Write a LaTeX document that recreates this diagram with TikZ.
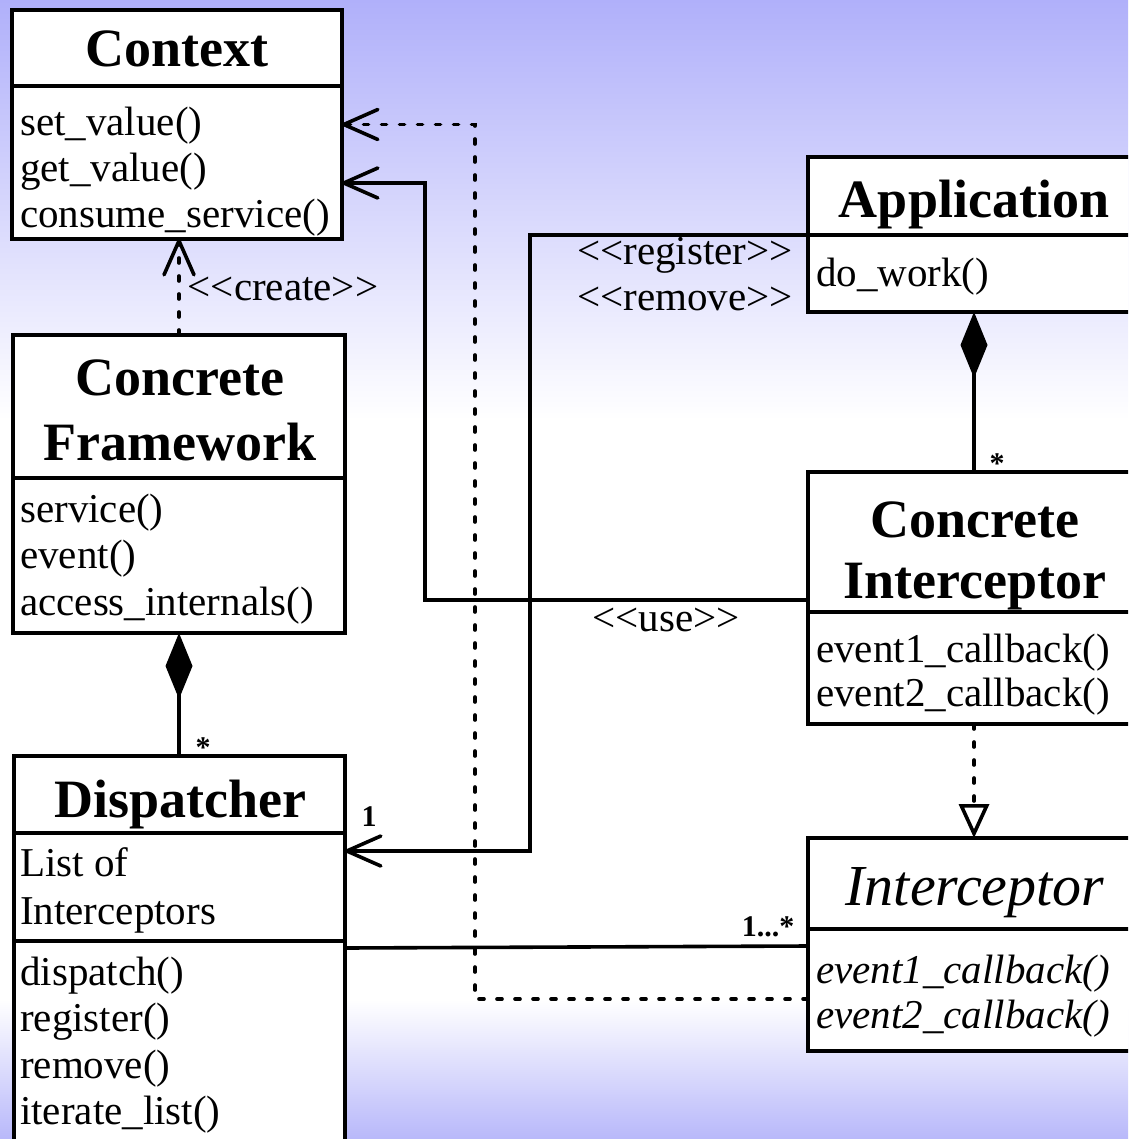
\documentclass[tikz,border=0pt]{standalone}
\usepackage{fontspec}
\setmainfont{Liberation Serif}
\usetikzlibrary{arrows.meta}
\definecolor{bgtop}{RGB}{176,176,250}
\definecolor{bgbot}{RGB}{184,184,250}
% stereotype brackets kept as separate < and > glyphs
\newcommand\stype[1]{\hbox{<}\hbox{<}#1\hbox{>}\hbox{>}}

\begin{document}
\begin{tikzpicture}[x=1pt,y=-1pt,
  classbox/.style={draw=black, line width=4pt, fill=white, inner sep=0pt, outer sep=0pt, anchor=north west},
  sepline/.style={line width=4pt},
  clstitle/.style={font=\fontsize{54}{60}\selectfont\bfseries, inner sep=0pt, anchor=base},
  clsititle/.style={font=\fontsize{58}{60}\selectfont\itshape, inner sep=0pt, anchor=base},
  mline/.style={font=\fontsize{41}{46}\selectfont, inner sep=0pt, anchor=base west},
  imline/.style={font=\fontsize{41}{46}\selectfont\itshape, inner sep=0pt, anchor=base west},
  stereo/.style={font=\fontsize{41}{46}\selectfont, inner sep=0pt, anchor=base},
  multlab/.style={font=\fontsize{30}{32}\selectfont\bfseries, inner sep=0pt, anchor=base},
  conn/.style={line width=3.6pt},
  dep/.style={conn, dash pattern=on 5pt off 13pt, line cap=round},
  openhead/.style={-{Straight Barb[length=34pt,width=30pt,round]}},
  composite/.style={{Diamond[length=66pt,width=27pt]}-},
  realize/.style={-{Triangle[open,length=34pt,width=30pt]}}
]
\useasboundingbox (0,0) rectangle (1128,1139);
\clip (0,0) rectangle (1128,1139);

% background
\fill[top color=bgtop, bottom color=white] (0,0) rectangle (1128,420);
\fill[white] (0,418) rectangle (1128,1002);
\fill[top color=white, bottom color=bgbot] (0,1000) rectangle (1128,1139);

% classes
\node[classbox, minimum width=330pt, minimum height=229pt] (context) at (12,10) {};
\node[classbox, minimum width=332pt, minimum height=298pt] (cf) at (13,335) {};
\node[classbox, minimum width=331pt, minimum height=404pt] (disp) at (14,756) {};
\node[classbox, minimum width=332pt, minimum height=155pt] (app) at (808,157) {};
\node[classbox, minimum width=332pt, minimum height=252pt] (ci) at (808,472) {};
\node[classbox, minimum width=332pt, minimum height=213pt] (intc) at (808,838) {};

% compartment separators
\draw[sepline] (context.west |- 0,86) -- (context.east |- 0,86);
\draw[sepline] (cf.west |- 0,478) -- (cf.east |- 0,478);
\draw[sepline] (disp.west |- 0,833) -- (disp.east |- 0,833);
\draw[sepline] (disp.west |- 0,941) -- (disp.east |- 0,941);
\draw[sepline] (app.west |- 0,235) -- (app.east |- 0,235);
\draw[sepline] (ci.west |- 0,612) -- (ci.east |- 0,612);
\draw[sepline] (intc.west |- 0,929) -- (intc.east |- 0,929);

% class texts
\node[clstitle] (contextT) at (177,67) {Context};
\node[mline] (c1) at (20,136) {set\_value()};
\node[mline] (c2) at (20,182) {get\_value()};
\node[mline] (c3) at (20,228) {consume\_service()};

\node[clstitle] (cfT1) at (180,395) {Concrete};
\node[clstitle] (cfT2) at (180,460) {Framework};
\node[mline] (f1) at (20,522) {service()};
\node[mline] (f2) at (20,568) {event()};
\node[mline] (f3) at (20,615) {access\_internals()};

\node[clstitle] (dispT) at (180,817) {Dispatcher};
\node[mline] (d1) at (20,876) {List of};
\node[mline] (d2) at (20,924) {Interceptors};
\node[mline] (d3) at (20,985) {dispatch()};
\node[mline] (d4) at (20,1031) {register()};
\node[mline] (d5) at (20,1078) {remove()};
\node[mline] (d6) at (20,1124) {iterate\_list()};

\node[clstitle] (appT) at (974,218) {Application};
\node[mline] (a1) at (816,287) {do\_work()};

\node[clstitle] (ciT1) at (975,537) {Concrete};
\node[clstitle] (ciT2) at (975,598) {Interceptor};
\node[mline] (i1) at (816,662) {event1\_callback()};
\node[mline] (i2) at (816,706) {event2\_callback()};

\node[clsititle] (intcT) at (975,905) {Interceptor};
\node[imline] (n1) at (816,983) {event1\_callback()};
\node[imline] (n2) at (816,1028) {event2\_callback()};

% bend points
\coordinate (usebend) at (425,183);
\coordinate (callbend) at (475,124.5);
\coordinate (regbend) at (530,851);

% connectors
\draw[conn, openhead] (ci.west |- 0,600) -| (usebend) -- (context.east |- usebend);
\draw[dep, openhead] (intc.west |- 0,999) -| (callbend) -- (context.east);
\draw[dep, openhead] (cf.north) -- (cf.north |- context.south);
\draw[conn, composite] (cf.south) -- (cf.south |- disp.north);
\draw[conn, openhead] (app.west |- 0,235) -| (regbend) -- (disp.east |- regbend);
\draw[conn, composite] (app.south) -- (app.south |- ci.north);
\draw[dep, realize] (ci.south) -- (ci.south |- intc.north);
\draw[conn] (disp.east |- 0,948) -- (intc.west |- 0,946);

% labels
\node[stereo] (lcreate) at (283,301) {\stype{create}};
\node[stereo] (lreg) at (685,265) {\stype{register}};
\node[stereo] (lrem) at (685,310) {\stype{remove}};
\node[stereo] (luse) at (666,631) {\stype{use}};
\node[multlab] (m1) at (203,757) {*};
\node[multlab] (m2) at (997,473) {*};
\node[multlab] (m3) at (369,826) {1};
\node[multlab] (m4) at (768,936) {1...*};
\end{tikzpicture}
\end{document}
